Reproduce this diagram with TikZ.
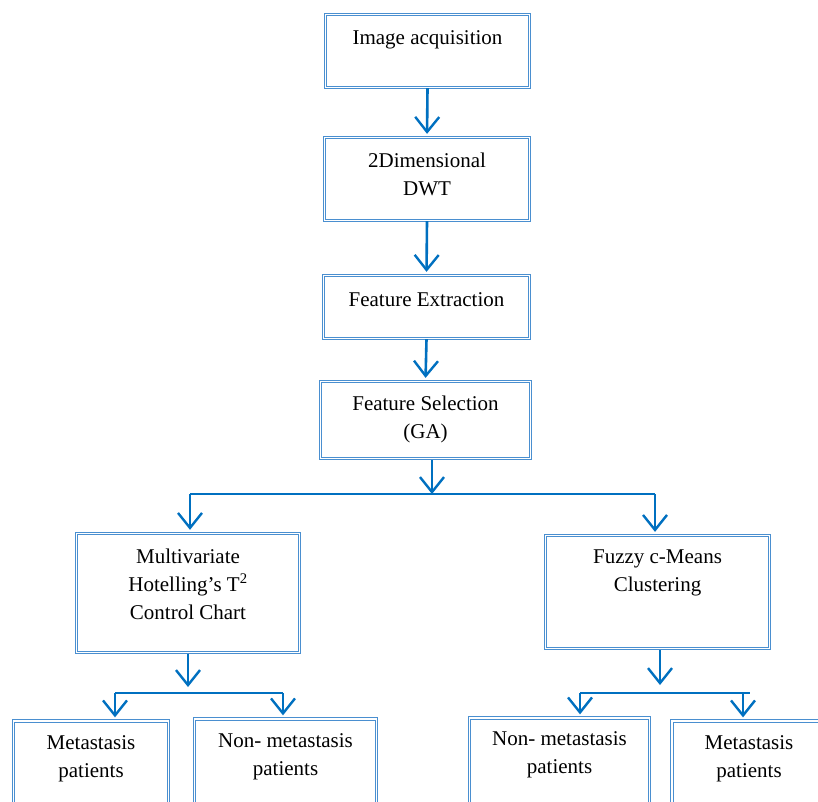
\documentclass[tikz,border=0pt]{standalone}
\usepackage{fontspec}
\setmainfont{Liberation Serif}
\usetikzlibrary{arrows.meta}
\definecolor{boxblue}{HTML}{4A8FD0}
\definecolor{arrblue}{HTML}{0070C0}
\tikzset{
  box/.style={draw=boxblue, line width=1.3pt, double=white, double distance=1.3pt, rectangle, inner sep=0pt},
  txt/.style={font=\fontsize{21}{28}\selectfont, align=center, inner sep=0pt},
  arr/.style={draw=arrblue, line width=2.6pt, -{Straight Barb[length=15pt,width=24pt,line width=2.4pt]}, shorten >=3pt},
  ln/.style={draw=arrblue, line width=2.6pt}
}
\begin{document}
\begin{tikzpicture}[x=1pt,y=-1pt]
\useasboundingbox (0,0) rectangle (818,801);
\clip (0,0) rectangle (818,801);
\fill[white] (0,0) rectangle (818,801);
% boxes
\node[box, minimum width=204pt, minimum height=73pt] (b1) at (427.5,51) {};
\node[box, minimum width=205pt, minimum height=83pt] (b2) at (427,179) {};
\node[box, minimum width=206pt, minimum height=63pt] (b3) at (426.5,307) {};
\node[box, minimum width=210pt, minimum height=77pt] (b4) at (425.5,420) {};
\node[box, minimum width=223pt, minimum height=119pt] (b5) at (188,593) {};
\node[box, minimum width=224pt, minimum height=113pt] (b6) at (657.5,592) {};
\node[box, minimum width=155pt, minimum height=120pt] (b7) at (91,781) {};
\node[box, minimum width=182pt, minimum height=120pt] (b8) at (285.5,779) {};
\node[box, minimum width=180pt, minimum height=120pt] (b9) at (559.5,778) {};
\node[box, minimum width=170pt, minimum height=120pt] (b10) at (757,781) {};
% texts
\node[txt] (t1) at (427.5,40) {Image acquisition};
\node[txt] (t2) at (427,174) {2Dimensional\\DWT};
\node[txt] (t3) at (426.5,300) {Feature Extraction};
\node[txt] (t4) at (425.5,419) {Feature Selection\\(GA)};
\node[txt] (t5) at (188,584) {Multivariate\\Hotelling's T\textsuperscript{2}\\Control Chart};
\node[txt] (t6) at (657.5,573) {Fuzzy c-Means\\Clustering};
\node[txt] (t7) at (91,759) {Metastasis\\patients};
\node[txt] (t8) at (285.5,757) {Non- metastasis\\patients};
\node[txt] (t9) at (559.5,755) {Non- metastasis\\patients};
\node[txt] (t10) at (749,759) {Metastasis\\patients};
% coordinates
\coordinate (s1) at (432,494);
\coordinate (sL) at (190,494);
\coordinate (sR) at (655,494);
\coordinate (p5) at (188,654);
\coordinate (q5) at (188,693);
\coordinate (l5) at (115,693);
\coordinate (r5) at (283,693);
\coordinate (p6) at (660,650);
\coordinate (q6) at (660,693);
\coordinate (l6) at (580,693);
\coordinate (r6) at (743,693);
\coordinate (e6) at (750,693);
% connectors
\draw[arr] (b1.south) -- (b2.north);
\draw[arr] (b2.south) -- (b3.north);
\draw[arr] (b3.south) -- (b4.north);
\draw[arr, shorten >=0pt] (432,460) -- (s1);
\draw[ln] (sL) -- (sR);
\draw[arr] (sL) -- (sL |- b5.north);
\draw[arr] (sR) -- (sR |- b6.north);
\draw[arr, shorten >=6pt] (p5) -- (q5);
\draw[ln] (l5) -- (r5);
\draw[arr] (l5) -- (l5 |- b7.north);
\draw[arr] (r5) -- (r5 |- b8.north);
\draw[arr, shorten >=8pt] (p6) -- (q6);
\draw[ln] (l6) -- (e6);
\draw[arr] (l6) -- (l6 |- b9.north);
\draw[arr] (r6) -- (r6 |- b10.north);
\end{tikzpicture}
\end{document}
